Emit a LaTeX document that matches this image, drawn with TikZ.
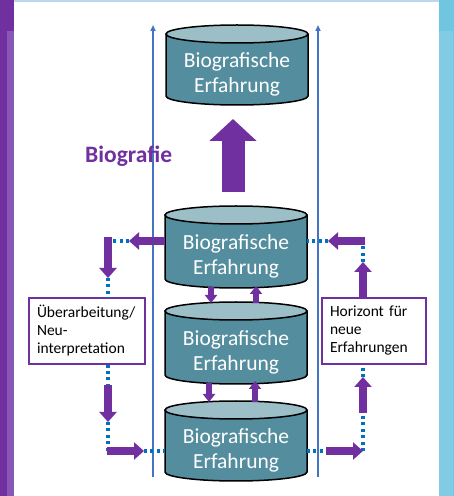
\documentclass[tikz,border=0pt]{standalone}
\usepackage{fontspec}
\setmainfont{Carlito}
\usetikzlibrary{arrows.meta,calc}
\definecolor{purp}{HTML}{7030A0}
\definecolor{purplight}{HTML}{8957B5}
\definecolor{rblue}{HTML}{70C5E0}
\definecolor{rbluelight}{HTML}{82CBE5}
\definecolor{topblue}{HTML}{BDD7EE}
\definecolor{vblue}{HTML}{4472C4}
\definecolor{dotblue}{HTML}{0070C0}
\definecolor{cylfillc}{HTML}{548E9E}
\definecolor{cyltopc}{HTML}{9BBEC7}
\newcommand\cylshape[1]{%
  \fill[cylfill] (#1.north west) -- (#1.south west) arc[start angle=180,end angle=360,x radius=71pt,y radius=9pt] -- (#1.north east) -- cycle;
  \draw[cylline] (#1.north west) -- (#1.south west) arc[start angle=180,end angle=360,x radius=71pt,y radius=9pt] -- (#1.north east);
  \draw[cylline,fill=cyltopc] (#1.north) ellipse[x radius=71pt,y radius=9pt];
  \node[cyltext] (#1t) at ([yshift=-9pt]#1.center) {Biografische\\Erfahrung};
}
\begin{document}
\begin{tikzpicture}[x=1pt,y=1pt,
  cylbody/.style={minimum width=142pt, minimum height=#1, inner sep=0pt, outer sep=0pt},
  cylfill/.style={fill=cylfillc},
  cylline/.style={draw=black, line width=1.5pt},
  cyltext/.style={text=white, align=center, inner sep=0pt, font=\fontsize{21.5}{25}\selectfont},
  vline/.style={draw=vblue, line width=1.5pt, -{Triangle[width=5pt,length=6pt]}},
  dotl/.style={draw=dotblue, line width=3.2pt, dash pattern=on 3pt off 3.4pt},
  marr/.style={draw=purp, line width=8.5pt, -{Triangle[width=17pt,length=10pt]}},
  sarr/.style={draw=purp, line width=5.5pt, -{Triangle[width=12pt,length=8pt]}},
  bigarr/.style={draw=purp, line width=23pt, -{Triangle[width=46pt,length=22pt]}},
  boxs/.style={draw=purp, line width=1.2pt, fill=white, minimum height=66pt, align=left, inner ysep=0pt, font=\fontsize{15.5}{18}\selectfont}
]
\useasboundingbox (0,0) rectangle (454,496);
% background
\fill[white] (0,0) rectangle (454,496);
\fill[purp] (0,0) rectangle (14,496);
\fill[purplight] (7,0) rectangle (14,465);
\fill[topblue] (14,494) rectangle (439,496);
\fill[rblue] (439,0) rectangle (454,496);
\fill[rbluelight] (439,0) rectangle (453,465);
% vertical lines
\coordinate (v1b) at (153,19);
\coordinate (v1t) at (153,471);
\coordinate (v2b) at (318,19);
\coordinate (v2t) at (318,471);
\draw[vline] (v1b) -- (v1t);
\draw[vline] (v2b) -- (v2t);
% cylinders
\node[cylbody=62pt] (c1) at (237,431) {};
\cylshape{c1}
\node[cylbody=64pt] (c2) at (236,249) {};
\cylshape{c2}
\node[cylbody=64pt] (c3) at (236,153) {};
\cylshape{c3}
\node[cylbody=62pt] (c4) at (236,55) {};
\cylshape{c4}
% title
\node[font=\fontsize{23.5}{27}\selectfont\bfseries, text=purp, anchor=base west, inner sep=0pt] (bio) at (85,333) {Biografie};
% big arrow
\draw[bigarr] ([xshift=-3pt,yshift=23pt]c2.north) -- ([xshift=-4pt,yshift=-23pt]c1.south);
% small arrows between cylinders
\draw[sarr] ([xshift=-25pt,yshift=-8pt]c2.south) -- ([xshift=-25pt,yshift=8pt]c3.north);
\draw[sarr] ([xshift=20pt,yshift=8pt]c3.north) -- ([xshift=20pt,yshift=-7pt]c2.south);
\draw[sarr] ([xshift=-27pt,yshift=-8pt]c3.south) -- ([xshift=-27pt,yshift=8pt]c4.north);
\draw[sarr] ([xshift=19pt,yshift=8pt]c4.north) -- ([xshift=19pt,yshift=-6pt]c3.south);
% boxes
\node[boxs, minimum width=116pt, text width=100pt, inner xsep=8pt] (bl) at (87,165) {Überarbeitung/\\Neu-\\interpretation};
\node[boxs, minimum width=104pt, text width=88pt, inner xsep=8pt] (br) at (374,165) {Horizont für\\neue\\Erfahrungen};
% loop coordinates
\coordinate (la) at (129,255);
\coordinate (lk) at (108,255);
\coordinate (lb) at (108,218);
\coordinate (lc) at (108,111);
\coordinate (ld) at (108,74);
\coordinate (lm) at (108,45);
\coordinate (le) at (144,45);
\coordinate (ra) at (326,45);
\coordinate (rb) at (363,45);
\coordinate (rc) at (363,83);
\coordinate (rd) at (363,119);
\coordinate (re) at (363,234);
\coordinate (rk) at (363,255);
\coordinate (rg) at (328,255);
% dotted
\draw[dotl] (la) -- (lk);
\draw[dotl] (lb) -- (lk |- bl.north);
\draw[dotl] (lk |- bl.south) -- (lc);
\draw[dotl] (ld) -- (lm);
\draw[dotl] (le) -- ([yshift=-10pt]c4.west);
\draw[dotl] ([yshift=-10pt]c4.east) -- (ra);
\draw[dotl] (rb) -- (rc);
\draw[dotl] (rd) -- (rb |- br.south);
\draw[dotl] (re) -- (rk);
\draw[dotl] (rg) -- ([yshift=6pt]c2.east);
% purple arrows
\draw[marr] ([yshift=6pt]c2.west) -- (la);
\draw[marr] ([yshift=4pt]lk) -- (lb);
\draw[marr] (lc) -- (ld);
\draw[marr] ([xshift=-1pt]lm) -- (le);
\draw[marr] (ra) -- (rb);
\draw[marr] (rc) -- (rd);
\draw[marr] (rb |- br.north) -- (re);
\draw[marr] ([xshift=2pt]rk) -- (rg);
\end{tikzpicture}
\end{document}
